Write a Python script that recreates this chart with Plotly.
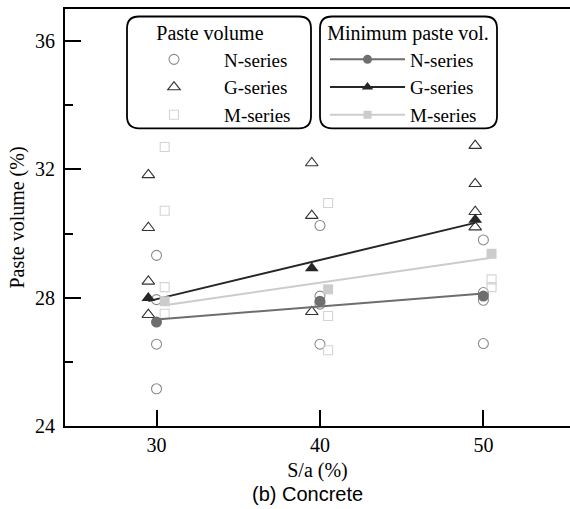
import numpy as np
import plotly.graph_objects as go

# ---------------- data ----------------
sa_levels = [30, 40, 50]

# paste volume (%) of individual mixes, per S/a level
N_paste = [[29.32, 27.94, 26.55, 25.16], [30.25, 28.05, 27.80, 26.55], [29.80, 28.16, 27.92, 26.57]]
G_paste = [[31.83, 30.18, 28.51, 27.47], [32.20, 30.56, 27.56], [32.74, 31.55, 30.68, 30.20]]
M_paste = [[32.70, 30.71, 28.33, 27.50], [30.95, 27.43, 26.36], [28.57, 28.33]]

# minimum paste volume (%)
N_min = [27.24, 27.89, 28.05]
G_min = [27.99, 28.92, 30.43]
M_min = [27.89, 28.26, 29.37]

series_names = ["N-series", "G-series", "M-series"]

# ---------------- style ----------------
SERIF = "Liberation Serif"
offsets = {"N": 0.0, "G": -0.5, "M": 0.5}
open_style = {
    "N": dict(symbol="circle-open", color="#8a8a8a", size=10),
    "G": dict(symbol="triangle-up-open", color="#333333", size=11),
    "M": dict(symbol="square-open", color="#d4d4d4", size=9),
}
min_style = {
    "N": dict(symbol="circle", color="#6e6e6e", size=11),
    "G": dict(symbol="triangle-up", color="#262626", size=12),
    "M": dict(symbol="square", color="#cccccc", size=10),
}

W, H = 570, 509
ML, MR, MT, MB = 65, 0, 8.5, 83
PW, PH = W - ML - MR, H - MT - MB


def px2paper(px, py):
    return (px - ML) / PW, (H - MB - py) / PH


fig = go.Figure()

paste = {"N": N_paste, "G": G_paste, "M": M_paste}
mins = {"N": N_min, "G": G_min, "M": M_min}
keys = ["N", "G", "M"]

# open markers (paste volume)
for k, name in zip(keys, series_names):
    xs, ys = [], []
    for lvl, vals in zip(sa_levels, paste[k]):
        xs += [lvl + offsets[k]] * len(vals)
        ys += vals
    st = open_style[k]
    fig.add_trace(go.Scatter(
        x=xs, y=ys, mode="markers", name=name, legend="legend",
        marker=dict(symbol=st["symbol"], color=st["color"], size=st["size"],
                    line=dict(width=1.1, color=st["color"])),
    ))

# fitted lines for minimum paste volume
for k in keys:
    xk = np.array(sa_levels, dtype=float) + offsets[k]
    a, b = np.polyfit(xk, mins[k], 1)
    xl = np.array([xk[0], xk[-1]])
    fig.add_trace(go.Scatter(
        x=xl, y=a * xl + b, mode="lines", showlegend=False, hoverinfo="skip",
        line=dict(color=min_style[k]["color"], width=2),
    ))

# filled markers (minimum)
for k in keys:
    st = min_style[k]
    fig.add_trace(go.Scatter(
        x=[lvl + offsets[k] for lvl in sa_levels], y=mins[k], mode="markers",
        showlegend=False,
        marker=dict(symbol=st["symbol"], color=st["color"], size=st["size"]),
    ))

# legend entries for minimum series
for k, name in zip(keys, series_names):
    st = min_style[k]
    fig.add_trace(go.Scatter(
        x=[None], y=[None], mode="lines+markers", name=name, legend="legend2",
        line=dict(color=st["color"], width=2),
        marker=dict(symbol=st["symbol"], color=st["color"], size=st["size"] - 2),
    ))


# rounded legend boxes
def rounded_box(x0, y0, x1, y1, r):
    def P(px, py):
        X, Y = px2paper(px, py)
        return f"{X:.5f},{Y:.5f}"
    path = (f"M {P(x0 + r, y0)} L {P(x1 - r, y0)} Q {P(x1, y0)} {P(x1, y0 + r)} "
            f"L {P(x1, y1 - r)} Q {P(x1, y1)} {P(x1 - r, y1)} "
            f"L {P(x0 + r, y1)} Q {P(x0, y1)} {P(x0, y1 - r)} "
            f"L {P(x0, y0 + r)} Q {P(x0, y0)} {P(x0 + r, y0)} Z")
    return dict(type="path", path=path, xref="paper", yref="paper",
                line=dict(color="black", width=1.8), fillcolor="rgba(0,0,0,0)", layer="above")


shapes = [rounded_box(127, 16, 311, 128, 12), rounded_box(320, 16, 497, 128, 12)]

lx1, ly1 = px2paper(124, 14)
lx2, ly2 = px2paper(325, 14)

LEG_FONT = dict(family=SERIF, size=19, color="black")
legend_common = dict(
    bgcolor="rgba(0,0,0,0)", borderwidth=0,
    font=LEG_FONT,
    yanchor="top", xanchor="left", tracegroupgap=0,
)

cx, cy = px2paper(307, 494)

fig.update_layout(
    width=W, height=H,
    margin=dict(l=ML, r=MR, t=MT, b=MB, pad=0),
    paper_bgcolor="white", plot_bgcolor="white",
    font=dict(family=SERIF, size=20, color="black"),
    showlegend=True,
    legend=dict(x=lx1, y=ly1, itemwidth=90,
                title=dict(text="Paste volume", side="top center",
                           font=dict(family=SERIF, size=20, color="black")),
                **legend_common),
    legend2=dict(x=lx2, y=ly2, itemwidth=75,
                 title=dict(text="Minimum paste vol.", side="top center",
                            font=dict(family=SERIF, size=20, color="black")),
                 **legend_common),
    xaxis=dict(
        range=[24.4, 55.3], tickvals=sa_levels, ticks="inside", ticklen=16, tickwidth=1.8,
        tickcolor="black", showline=True, linecolor="black", linewidth=1.8, mirror=True,
        showgrid=False, zeroline=False,
        tickfont=dict(family=SERIF, size=20, color="black"),
        title=dict(text="S/a (%)", font=dict(family=SERIF, size=20, color="black"), standoff=8),
    ),
    yaxis=dict(
        range=[24, 37], tickvals=[24, 28, 32, 36], ticks="inside", ticklen=16, tickwidth=1.8,
        tickcolor="black", showline=True, linecolor="black", linewidth=1.8,
        showgrid=False, zeroline=False, ticklabelstandoff=4,
        minor=dict(tickvals=[26, 30, 34], ticks="inside", ticklen=8, tickwidth=1.8, tickcolor="black"),
        tickfont=dict(family=SERIF, size=20, color="black"),
        title=dict(text="Paste volume (%)", font=dict(family=SERIF, size=20, color="black"), standoff=5),
    ),
    shapes=shapes,
    annotations=[dict(text="(b) Concrete", x=cx, y=cy, xref="paper", yref="paper",
                      showarrow=False, xanchor="center", yanchor="middle",
                      font=dict(family="Liberation Sans", size=20, color="black"))],
)

fig.write_html("out.html")
